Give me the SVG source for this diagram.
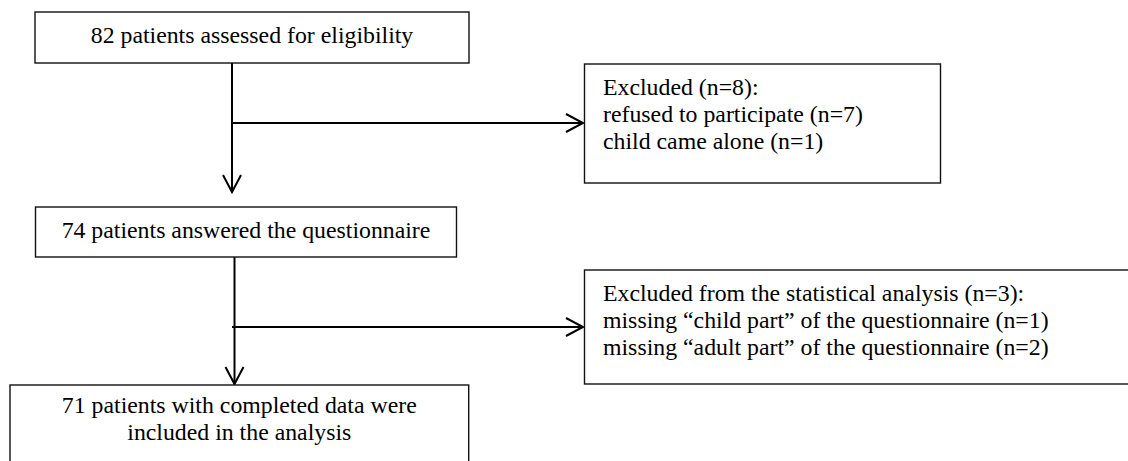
<svg xmlns="http://www.w3.org/2000/svg" width="1128" height="461" viewBox="0 0 1128 461">
<style>
.box{fill:#fff;stroke:#111;stroke-width:1.4}
.t{font-family:"Liberation Serif","Times New Roman",serif;font-size:23.8px;fill:#000}
.c{text-anchor:middle}
.ln{fill:none;stroke:#000;stroke-width:2}
</style>
<defs>
<marker id="arr" markerUnits="userSpaceOnUse" markerWidth="22" markerHeight="22" viewBox="-2 -11 22 22" refX="17" refY="0" orient="auto" overflow="visible">
<path d="M0,-9 L17,0 L0,9" fill="none" stroke="#000" stroke-width="2"/>
</marker>
</defs>
<rect width="1128" height="461" fill="#fff"/>
<g id="connectors">
<line class="ln" x1="232" y1="63" x2="232" y2="192" marker-end="url(#arr)"/>
<line class="ln" x1="232" y1="123" x2="583" y2="123" marker-end="url(#arr)"/>
<line class="ln" x1="234.5" y1="257" x2="234.5" y2="384" marker-end="url(#arr)"/>
<line class="ln" x1="232" y1="327" x2="583" y2="327" marker-end="url(#arr)"/>
</g>
<g id="n1">
<rect class="box" x="35" y="12" width="434" height="51"/>
<text class="t c" x="252" y="42.5">82 patients assessed for eligibility</text>
</g>
<g id="n2">
<rect class="box" x="584.5" y="64" width="356" height="119"/>
<text class="t" x="603" y="95">Excluded (n=8):</text>
<text class="t" x="603" y="122">refused to participate (n=7)</text>
<text class="t" x="603" y="149">child came alone (n=1)</text>
</g>
<g id="n3">
<rect class="box" x="35.5" y="207" width="421" height="50"/>
<text class="t c" x="246" y="237.5">74 patients answered the questionnaire</text>
</g>
<g id="n4">
<rect class="box" x="584.5" y="270" width="560" height="114"/>
<text class="t" x="603" y="301">Excluded from the statistical analysis (n=3):</text>
<text class="t" x="603" y="328">missing “child part” of the questionnaire (n=1)</text>
<text class="t" x="603" y="355">missing “adult part” of the questionnaire (n=2)</text>
</g>
<g id="n5">
<rect class="box" x="10" y="385" width="458.7" height="90"/>
<text class="t c" x="239.3" y="413">71 patients with completed data were</text>
<text class="t c" x="239.3" y="440">included in the analysis</text>
</g>
</svg>
